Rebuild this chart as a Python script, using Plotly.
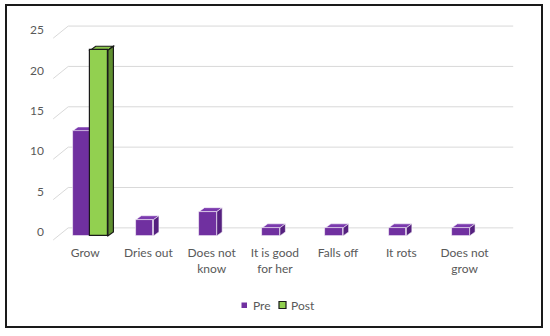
import plotly.graph_objects as go

categories = ["Grow", "Dries out", "Does not<br>know", "It is good<br>for her", "Falls off", "It rots", "Does not<br>grow"]
series_names = ["Pre", "Post"]
pre_values = [13, 2, 3, 1, 1, 1, 1]
post_values = [23, 0, 0, 0, 0, 0, 0]
y_ticks = [0, 5, 10, 15, 20, 25]

# styling
PRE_FRONT, PRE_TOP, PRE_SIDE = "#7030A0", "#7B3AAE", "#55207F"
POST_FRONT, POST_TOP, POST_SIDE = "#92D050", "#8CC84C", "#5F8F2F"
PRE_LINE, POST_LINE = "rgba(255,255,255,0.7)", "#1a1a1a"
BAR_W = 0.28
OFFS = 0.14
DX, DY = 0.087, 0.5          # bar depth (data units)
WALL_DX = 0.237
X0, X1 = -0.62, 6.75
Y0, Y1 = -1, 27
L, T = 51, 18
W, H = 466, 226

xs = list(range(len(categories)))
fig = go.Figure()
fig.add_trace(go.Bar(x=[i - OFFS for i in xs], y=pre_values, width=BAR_W, name=series_names[0],
                     showlegend=False,
                     marker=dict(color=PRE_FRONT,
                                 line=dict(color=PRE_LINE, width=[0.8 if v > 0 else 0 for v in pre_values]))))
fig.add_trace(go.Bar(x=[i + OFFS for i in xs], y=post_values, width=BAR_W, name=series_names[1],
                     showlegend=False,
                     marker=dict(color=POST_FRONT,
                                 line=dict(color=POST_LINE, width=[1.2 if v > 0 else 0 for v in post_values]))))

shapes = []
xl = -0.585
for v in y_ticks:
    shapes.append(dict(type="line", xref="x", yref="y", x0=xl, y0=v - 0.5, x1=xl + WALL_DX, y1=v + 1.0,
                       line=dict(color="#D9D9D9", width=1), layer="below"))
    shapes.append(dict(type="line", xref="x", yref="y", x0=xl + WALL_DX, y0=v + 1.0, x1=6.69, y1=v + 1.0,
                       line=dict(color="#D9D9D9", width=1), layer="below"))

def faces(xc, v, top, side, lc, lw):
    if v <= 0:
        return []
    a, b = xc - BAR_W / 2, xc + BAR_W / 2
    top_path = f"M{a},{v} L{b},{v} L{b+DX},{v+DY} L{a+DX},{v+DY} Z"
    side_path = f"M{b},0 L{b},{v} L{b+DX},{v+DY} L{b+DX},{DY} Z"
    return [dict(type="path", xref="x", yref="y", path=top_path, fillcolor=top,
                 line=dict(color=lc, width=lw), layer="below"),
            dict(type="path", xref="x", yref="y", path=side_path, fillcolor=side,
                 line=dict(color=lc, width=lw), layer="below")]

for i in xs:
    shapes += faces(i - OFFS, pre_values[i], PRE_TOP, PRE_SIDE, PRE_LINE, 0.8)
    shapes += faces(i + OFFS, post_values[i], POST_TOP, POST_SIDE, POST_LINE, 1.2)

def px(x):  # pixel -> paper x
    return (x - L) / W

def py(y):  # pixel -> paper y
    return (T + H - y) / H

# outer border
shapes.append(dict(type="rect", xref="paper", yref="paper",
                   x0=px(6), x1=px(542), y0=py(327), y1=py(5),
                   line=dict(color="#1a1a1a", width=2), layer="above"))

font = dict(family="Lato, 'Open Sans', sans-serif", size=12, color="#595959")

# custom legend
annotations = []
shapes.append(dict(type="rect", xref="paper", yref="paper", x0=px(241.5), x1=px(247), y0=py(308), y1=py(302.5),
                   fillcolor=PRE_FRONT, line=dict(width=0)))
shapes.append(dict(type="rect", xref="paper", yref="paper", x0=px(279), x1=px(286), y0=py(308.5), y1=py(301.5),
                   fillcolor=POST_FRONT, line=dict(color="#1a1a1a", width=1.2)))
annotations.append(dict(xref="paper", yref="paper", x=px(251), y=py(305), xanchor="left", yanchor="middle",
                        text=series_names[0], showarrow=False, font=font))
annotations.append(dict(xref="paper", yref="paper", x=px(289), y=py(305), xanchor="left", yanchor="middle",
                        text=series_names[1], showarrow=False, font=font))

fig.update_layout(
    width=550, height=336,
    margin=dict(l=L, r=550 - L - W, t=T, b=336 - T - H, autoexpand=False),
    paper_bgcolor="white", plot_bgcolor="white",
    barmode="overlay", bargap=0,
    showlegend=False,
    font=font,
    shapes=shapes,
    annotations=annotations,
    xaxis=dict(range=[X0, X1], tickvals=xs, ticktext=categories, showgrid=False, zeroline=False,
               showline=False, ticks="", tickfont=font, ticklabelshift=-5, fixedrange=True),
    yaxis=dict(range=[Y0, Y1], tickvals=y_ticks, showgrid=False, zeroline=False, showline=False,
               ticks="", tickfont=font, ticklabelshift=-4, ticklabelstandoff=6, fixedrange=True),
)

fig.write_html("out.html", config={"displayModeBar": False},
               post_script="document.body.style.margin='0';document.body.style.overflow='hidden';")
